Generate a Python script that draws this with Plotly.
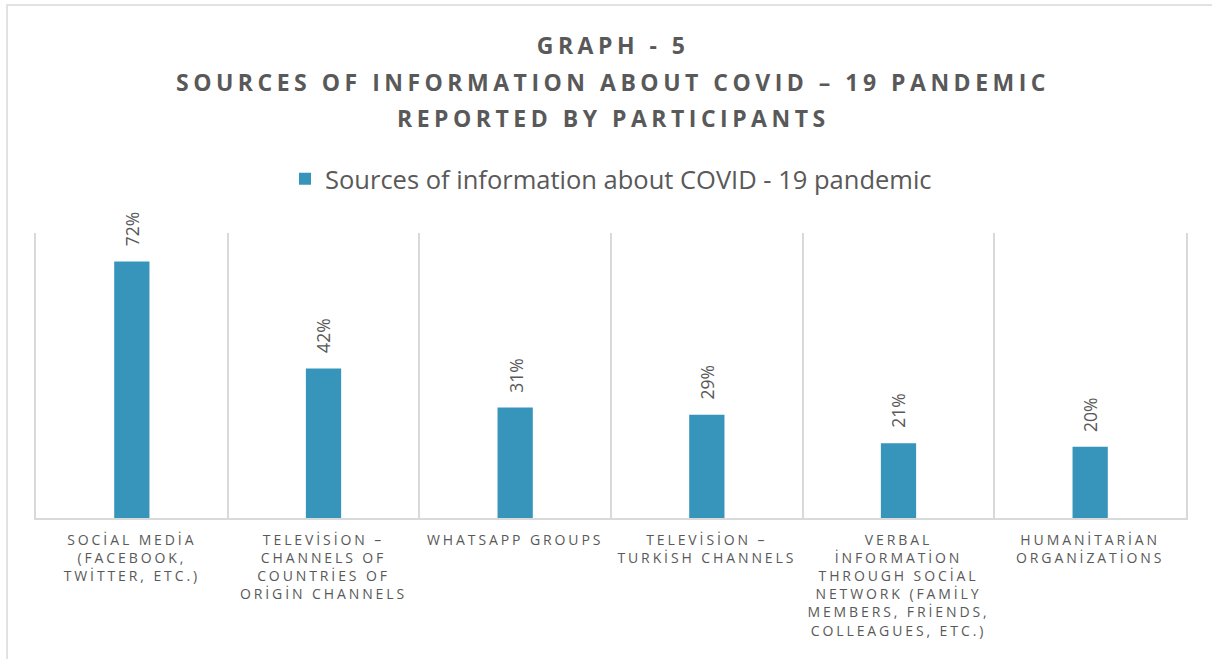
import plotly.graph_objects as go

categories = [
    "SOCİAL MEDİA<br>(FACEBOOK,<br>TWİTTER, ETC.)",
    "TELEVİSİON –<br>CHANNELS OF<br>COUNTRİES OF<br>ORİGİN CHANNELS",
    "WHATSAPP GROUPS",
    "TELEVİSİON –<br>TURKİSH CHANNELS",
    "VERBAL<br>İNFORMATİON<br>THROUGH SOCİAL<br>NETWORK (FAMİLY<br>MEMBERS, FRİENDS,<br>COLLEAGUES, ETC.)",
    "HUMANİTARİAN<br>ORGANİZATİONS",
]
values = [0.72, 0.42, 0.31, 0.29, 0.21, 0.20]
series_name = "Sources of information about COVID - 19 pandemic"
title_lines = [
    "GRAPH - 5",
    "SOURCES OF INFORMATION ABOUT COVID – 19 PANDEMIC",
    "REPORTED BY PARTICIPANTS",
]

BLUE = "#3795bc"
GRAY = "#595959"
GRID = "#d9d9d9"
FONT = "Open Sans"

fig = go.Figure()
fig.add_trace(go.Bar(
    x=categories, y=values, name=series_name,
    marker=dict(color=BLUE, line=dict(width=0)),
    width=0.184, showlegend=True,
))

annotations = []
for i, (line, yp) in enumerate(zip(title_lines, [1.6596, 1.5298, 1.4035])):
    annotations.append(dict(
        text="<b>%s</b>" % line, x=0.5, y=yp, xref="paper", yref="paper",
        xanchor="center", yanchor="middle", showarrow=False, xshift=2,
        font=dict(family=FONT, size=23, color=GRAY),
    ))
for c, v in zip(categories, values):
    annotations.append(dict(
        text="%d%%" % round(v * 100), x=c, y=v, xref="x", yref="y",
        textangle=-90, xanchor="center", yanchor="bottom", yshift=13,
        showarrow=False, font=dict(family=FONT, size=17.5, color=GRAY),
    ))

fig.update_layout(
    width=1212, height=659,
    margin=dict(l=36, r=26, t=233, b=141),
    paper_bgcolor="white", plot_bgcolor="white",
    font=dict(family=FONT, color=GRAY),
    showlegend=True,
    legend=dict(orientation="h", x=0.5, xanchor="center", y=1.189, yanchor="middle",
                font=dict(family=FONT, size=25.5, color=GRAY), itemclick=False),
    xaxis=dict(
        type="category", tickson="boundaries", showgrid=True, gridcolor=GRID, gridwidth=1.5,
        showline=True, linecolor=GRID, linewidth=1.5, ticks="", ticklen=0,
        ticklabelstandoff=8,
        tickfont=dict(family=FONT, size=14, color=GRAY),
    ),
    yaxis=dict(
        range=[0, 0.8], showgrid=False, zeroline=False, showticklabels=False,
        showline=True, mirror=True, linecolor=GRID, linewidth=1.5, ticks="",
    ),
    annotations=annotations,
    shapes=[dict(type="rect", xref="paper", yref="paper",
                 x0=-0.0252, x1=1.05, y0=-0.7, y1=1.8,
                 line=dict(color=GRID, width=1.5), fillcolor="rgba(0,0,0,0)", layer="below")],
)

js = """
var s = document.createElement('style');
s.innerHTML = 'html,body{margin:0;padding:0;} .xtick text{letter-spacing:2.9px;} '
 + '.annotation[data-index="0"] text, .annotation[data-index="1"] text, .annotation[data-index="2"] text{letter-spacing:4.5px;}';
document.head.appendChild(s);
"""
fig.write_html("out.html", post_script=js, config={"displayModeBar": False})
